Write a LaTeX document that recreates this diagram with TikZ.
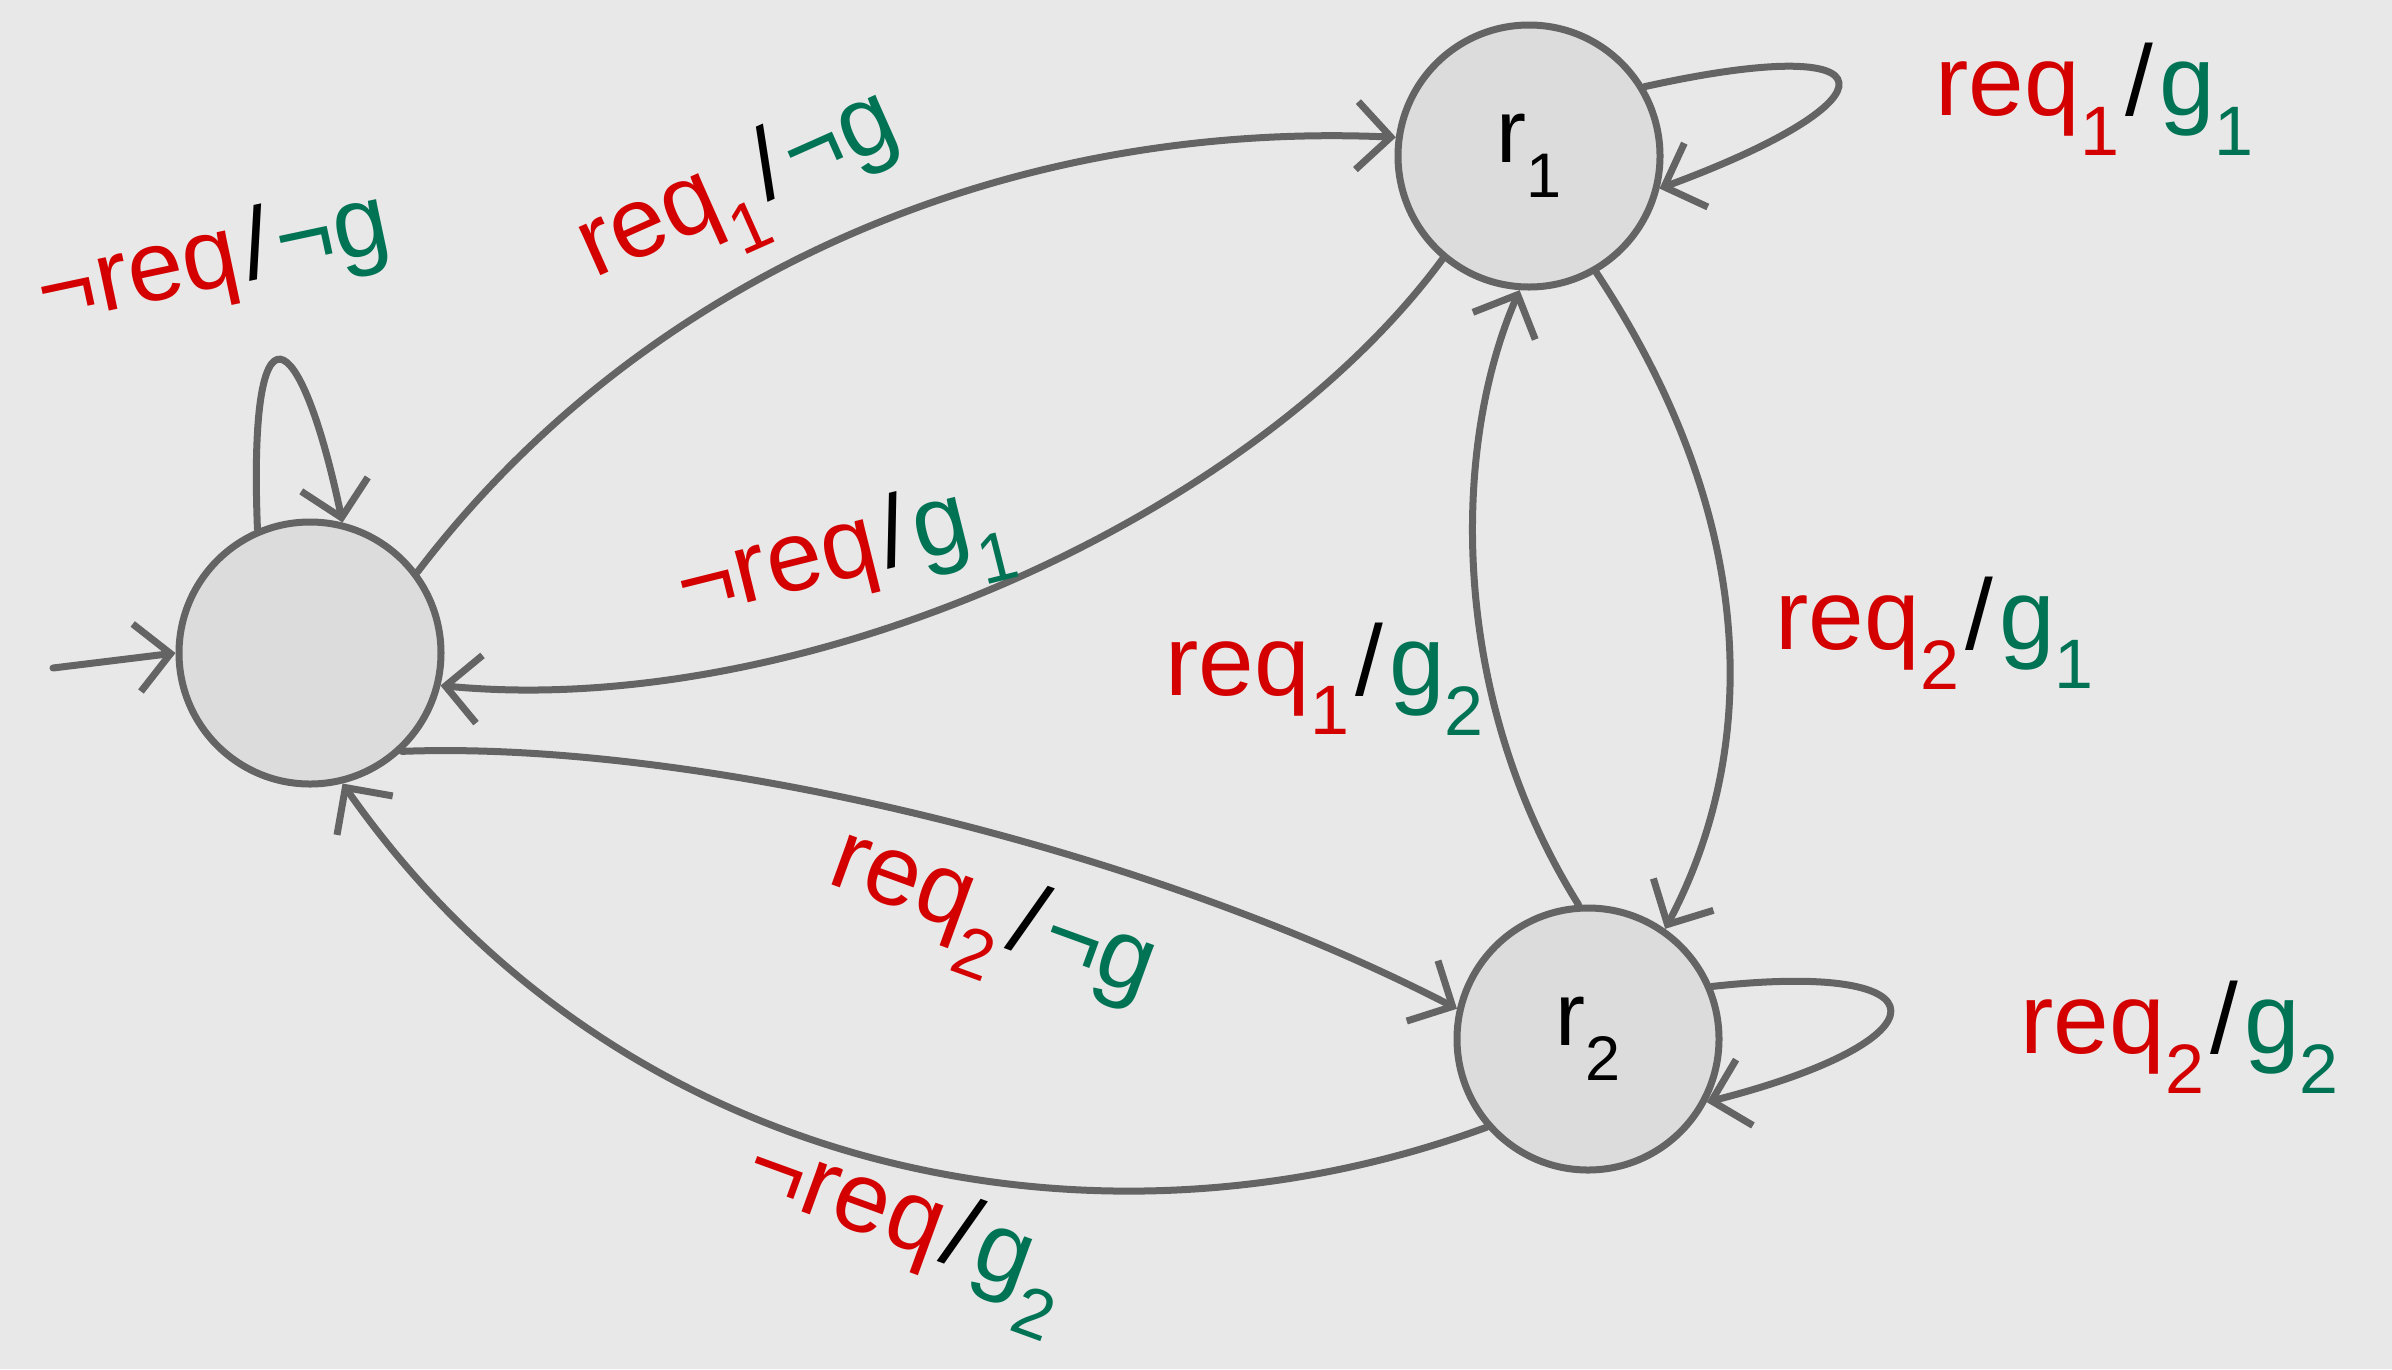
\documentclass[tikz,border=0pt]{standalone}
\usepackage{fontspec}
\setmainfont{Liberation Sans}
\usetikzlibrary{arrows.meta}
\definecolor{bgc}{HTML}{E8E8E8}
\definecolor{edgec}{HTML}{646464}
\definecolor{fillc}{HTML}{DCDCDC}
\definecolor{myred}{HTML}{D40000}
\definecolor{mygreen}{HTML}{007355}
\newcommand\redt[1]{\textcolor{myred}{#1}}
\newcommand\grnt[1]{\textcolor{mygreen}{#1}}
\newcommand\sub[1]{\textsubscript{#1}}
\newcommand\slsh{\kern6pt/\kern6pt}
\tikzset{
  state/.style={circle, draw=edgec, fill=fillc, line width=7pt, minimum size=262pt, inner sep=0pt,
     font=\fontsize{90}{100}\selectfont},
  trans/.style={draw=edgec, line width=7pt, line cap=round,
     -{Straight Barb[length=34pt,width=68pt]}},
  lbl/.style={font=\fontsize{100}{110}\selectfont, inner sep=0pt}
}
\begin{document}
\begin{tikzpicture}[x=1pt,y=-1pt]
\fill[bgc] (0,0) rectangle (2392,1369);
\useasboundingbox (0,0) rectangle (2392,1369);

\node[state] (q0) at (310,653) {};
\node[state] (r1) at (1529,156) {r\sub{1}};
\node[state] (r2) at (1588,1039) {r\sub{2}};
\coordinate (init) at (53,668);

% initial
\draw[trans] (init) -- (q0.west);
% loop q0
\draw[trans] (q0.113) .. controls (248,290) and (300,320) .. (q0.76);
% q0 -> r1
\draw[trans] (q0.37) .. controls (640,280) and (1000,120) .. (r1.172);
% r1 -> q0
\draw[trans] (r1.230) .. controls (1250,520) and (800,720) .. (q0.346);
% loop r1
\draw[trans] (r1.31) .. controls (1900,30) and (1900,100) .. (r1.-14);
% r1 -> r2
\draw[trans] (r1.300) .. controls (1760,520) and (1760,750) .. (r2.55);
% r2 -> r1
\draw[trans] (r2.94) .. controls (1450,700) and (1450,450) .. (r1.266);
% q0 -> r2
\draw[trans] (q0.-47) .. controls (700,740) and (1150,850) .. (r2.167);
% r2 -> q0
\draw[trans] (r2.221) .. controls (1100,1270) and (620,1180) .. (q0.284);
% loop r2
\draw[trans] (r2.23) .. controls (1950,960) and (1950,1040) .. (r2.-28);

% labels
\node[lbl, rotate=12] (l0) at (214,262) {\redt{¬req}\slsh\grnt{¬g}};
\node[lbl, rotate=24] (l1) at (742,195) {\redt{req\sub{1}}\slsh\grnt{¬g}};
\node[lbl, rotate=14] (l2) at (845,562) {\redt{¬req}\slsh\grnt{g\sub{1}}};
\node[lbl] (l3) at (2095,99) {\redt{req\sub{1}}\slsh\grnt{g\sub{1}}};
\node[lbl] (l4) at (1935,633) {\redt{req\sub{2}}\slsh\grnt{g\sub{1}}};
\node[lbl] (l5) at (1325,679) {\redt{req\sub{1}}\slsh\grnt{g\sub{2}}};
\node[lbl, rotate=-20] (l6) at (990,925) {\redt{req\sub{2}}\slsh\grnt{¬g}};
\node[lbl, rotate=-20] (l7) at (905,1232) {\redt{¬req}\slsh\grnt{g\sub{2}}};
\node[lbl] (l8) at (2180,1037) {\redt{req\sub{2}}\slsh\grnt{g\sub{2}}};
\end{tikzpicture}
\end{document}
